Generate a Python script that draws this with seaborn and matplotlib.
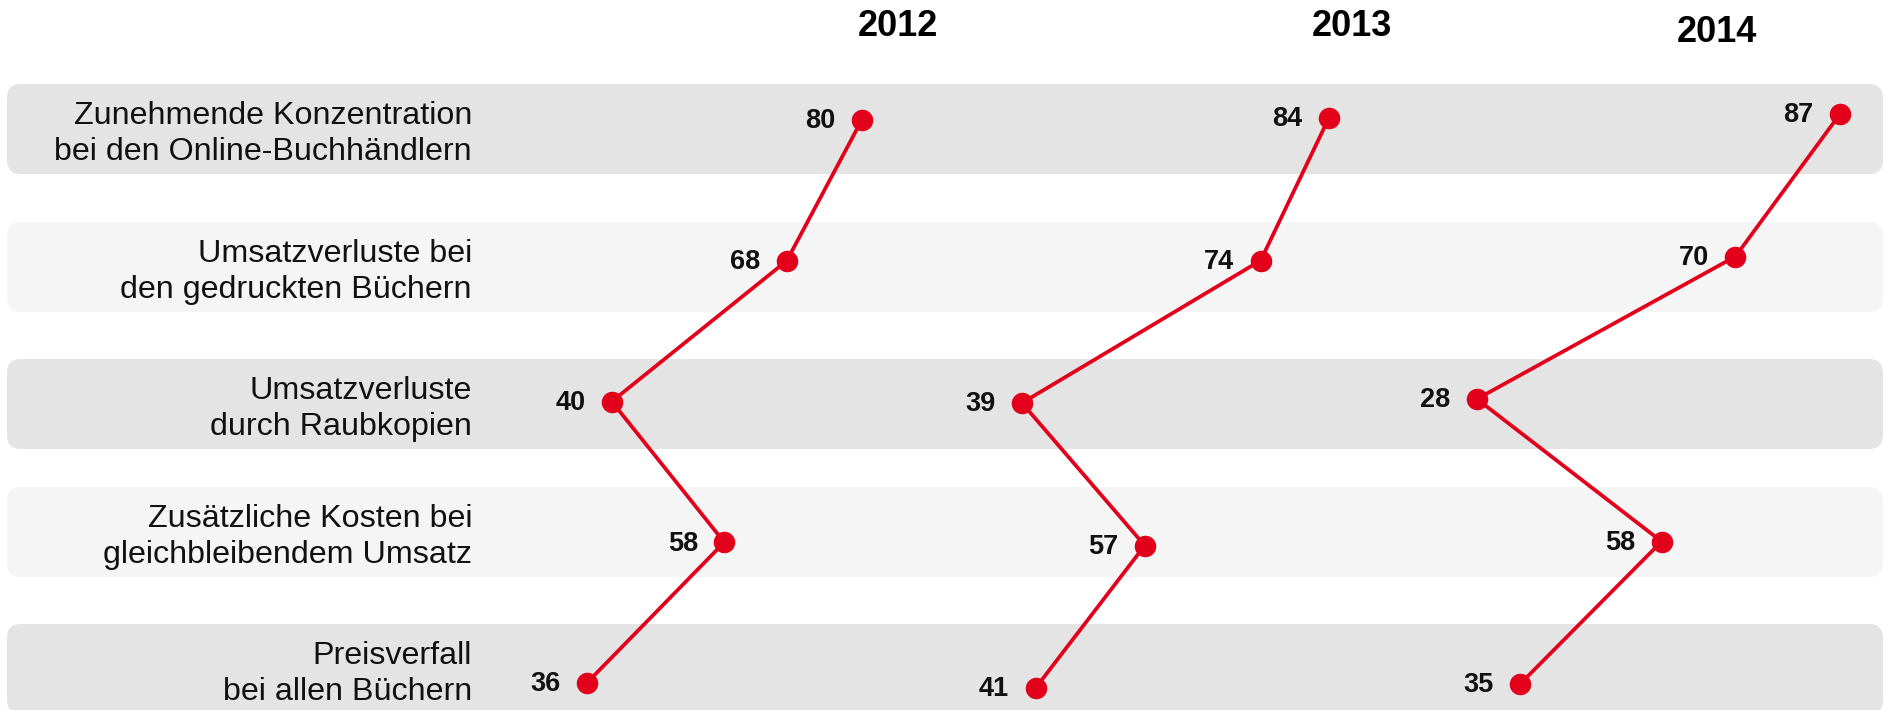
import matplotlib
matplotlib.use("Agg")
import matplotlib.pyplot as plt
from matplotlib.patches import FancyBboxPatch
import numpy as np
import pandas as pd
import seaborn as sns

# --- data -------------------------------------------------------------
categories = [
    "Zunehmende Konzentration\nbei den Online-Buchhändlern",
    "Umsatzverluste bei\nden gedruckten Büchern",
    "Umsatzverluste\ndurch Raubkopien",
    "Zusätzliche Kosten bei\ngleichbleibendem Umsatz",
    "Preisverfall\nbei allen Büchern",
]
years = ["2012", "2013", "2014"]
values_2012 = [80, 68, 40, 58, 36]
values_2013 = [84, 74, 39, 57, 41]
values_2014 = [87, 70, 28, 58, 35]
series = {"2012": values_2012, "2013": values_2013, "2014": values_2014}

# --- layout (pixels on a 1886 x 710 canvas) ---------------------------
W, H = 1886, 710
RED = "#E2001A"
band_tops = [84, 222, 359, 487, 624]
band_height = 90
band_colors = ["#E4E4E4", "#F5F5F5", "#E4E4E4", "#F5F5F5", "#E4E4E4"]
label_right = 472
# per-year horizontal scale: pixel of value 0 and pixels per unit
x_scale = {"2012": (361.8, 6.25), "2013": (756.0, 6.82), "2014": (1304.7, 6.153)}
# per-year vertical placement: pixel of first and last row
y_rows = {"2012": (120, 683), "2013": (118, 688), "2014": (114, 684)}
title_pos = {"2012": (898, 27), "2013": (1352, 27), "2014": (1717, 32)}

sns.set_style("white")
plt.rcParams["font.family"] = ["Liberation Sans", "DejaVu Sans"]

fig = plt.figure(figsize=(W / 100, H / 100), dpi=100)

# background bands and category labels
bg = fig.add_axes([0, 0, 1, 1])
bg.set_xlim(0, W)
bg.set_ylim(H, 0)
bg.set_axis_off()
for top, color, label in zip(band_tops, band_colors, categories):
    bg.add_patch(FancyBboxPatch((7, top), 1876, band_height,
                                boxstyle="round,pad=0,rounding_size=14",
                                facecolor=color, edgecolor="none", zorder=0))
    bg.text(label_right, top + band_height / 2 + 5, label, ha="right", va="center",
            fontsize=23.2, linespacing=1.3, color="#111111")

for year in years:
    tx, ty = title_pos[year]
    bg.text(tx, ty, year, ha="center", va="center", fontsize=26,
            fontweight="bold", color="#000000")

# one transparent axes per year, each with its own value scale
for year in years:
    vals = series[year]
    df = pd.DataFrame({"value": vals, "row": np.arange(len(vals))})
    ax = fig.add_axes([0, 0, 1, 1])
    ax.patch.set_alpha(0)
    x0, k = x_scale[year]
    ax.set_xlim(-x0 / k, (W - x0) / k)
    top, bottom = y_rows[year]
    step = (bottom - top) / (len(vals) - 1)
    ax.set_ylim((H - top) / step, -top / step)
    sns.lineplot(data=df, x="value", y="row", orient="y", sort=False, ax=ax,
                 color=RED, linewidth=2.7, marker="o", markersize=15.5,
                 markeredgewidth=0, zorder=3)
    for v, r in zip(df["value"], df["row"]):
        ax.annotate(str(v), (v, r), xytext=(-19, -1), textcoords="offset points",
                    ha="right", va="center", fontsize=19.5, fontweight="bold",
                    color="#111111")
    ax.set_axis_off()

fig.savefig("out.png", dpi=100)
